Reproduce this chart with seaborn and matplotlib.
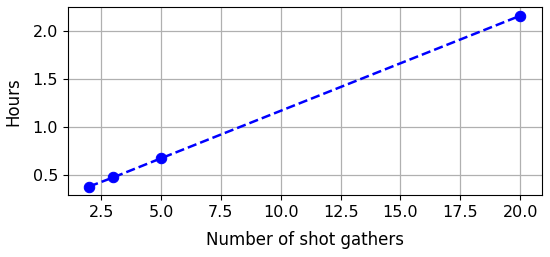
import matplotlib
matplotlib.use("Agg")
import matplotlib.pyplot as plt
import seaborn as sns
import pandas as pd

shot_gathers = [2, 3, 5, 20]
hours = [0.375, 0.47, 0.67, 2.16]

df = pd.DataFrame({"Number of shot gathers": shot_gathers, "Hours": hours})

plt.rcParams["font.size"] = 12
fig = plt.figure(figsize=(5.5, 2.57), dpi=100)
ax = fig.add_axes([0.123, 0.241, 0.862, 0.731])
sns.lineplot(data=df, x="Number of shot gathers", y="Hours", ax=ax,
             color="blue", linestyle="--", marker="o", markersize=7.5,
             markeredgecolor="blue", linewidth=1.8)
ax.grid(True, color="#b0b0b0", linewidth=0.9)
ax.set_axisbelow(True)
ax.set_xticks([2.5, 5.0, 7.5, 10.0, 12.5, 15.0, 17.5, 20.0])
ax.set_yticks([0.5, 1.0, 1.5, 2.0])
ax.tick_params(labelsize=11.5)
ax.set_xlabel("Number of shot gathers", fontsize=12, labelpad=8)
ax.set_ylabel("Hours", fontsize=12, labelpad=7)
fig.savefig("out.png", dpi=100)
